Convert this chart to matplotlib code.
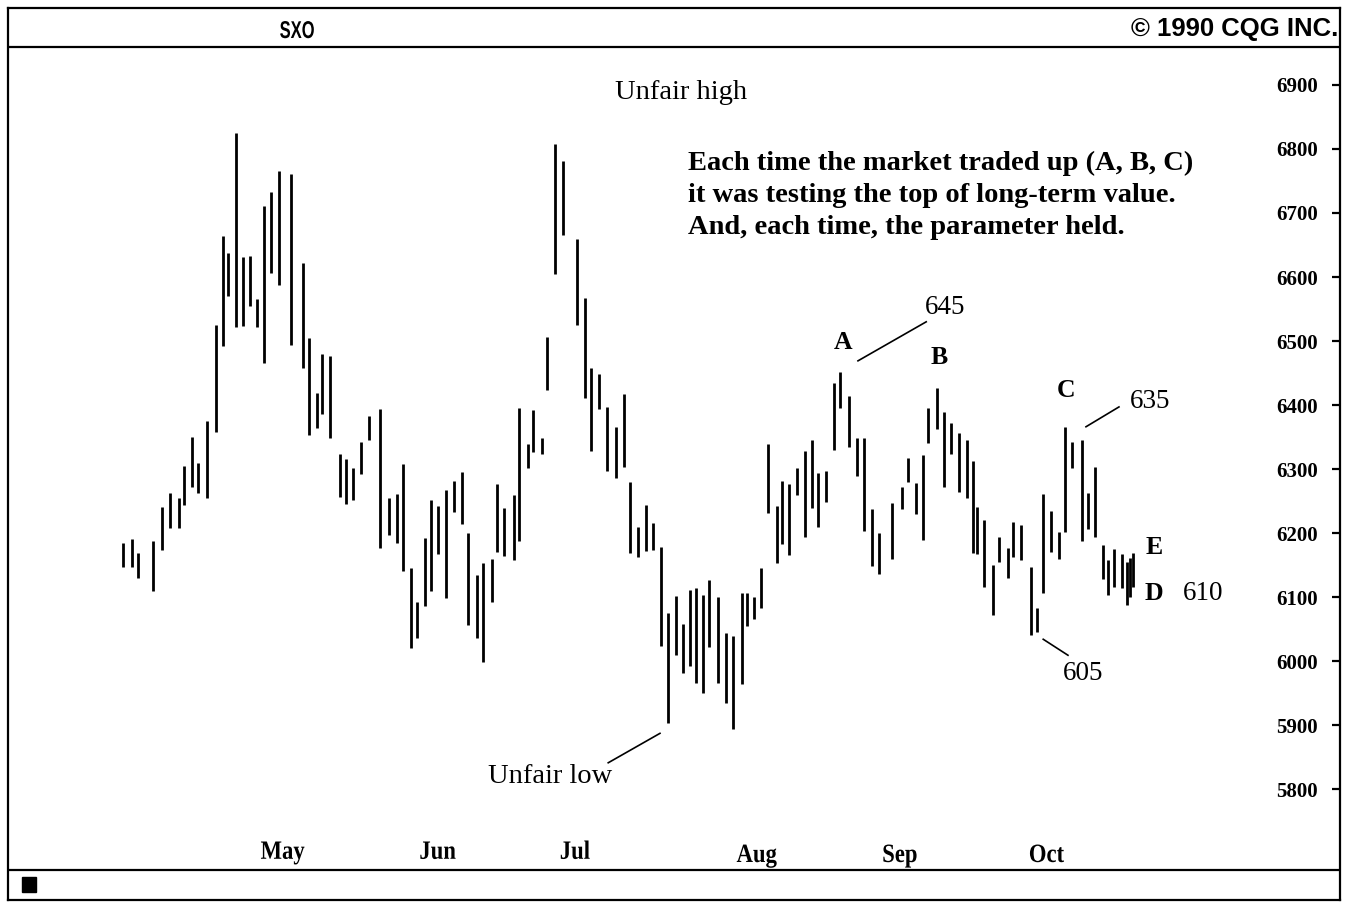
import matplotlib.pyplot as plt
from matplotlib.patches import Rectangle, PathPatch
from matplotlib.textpath import TextPath
from matplotlib.font_manager import FontProperties
from matplotlib.transforms import Affine2D

# Daily high/low bars for SXO, April - October 1990
# session: trading-day position along the chart
session = [0.0, 1.2, 2.0, 4.0, 5.2, 6.3, 7.5, 8.1, 9.2, 10.0,
           11.2, 12.4, 13.3, 14.0, 15.1, 16.0, 16.9, 17.9, 18.8, 19.7,
           20.8, 22.4, 24.0, 24.8, 25.9, 26.5, 27.6, 28.9, 29.7, 30.7,
           31.7, 32.8, 34.3, 35.5, 36.5, 37.3, 38.4, 39.2, 40.3, 41.1,
           42.0, 43.1, 44.1, 45.2, 46.0, 47.2, 48.0, 49.2, 49.9, 50.8,
           52.1, 52.8, 54.0, 54.7, 55.9, 56.5, 57.6, 58.7, 60.5, 61.6,
           62.4, 63.5, 64.5, 65.7, 66.8, 67.6, 68.7, 69.7, 70.7, 71.7,
           72.7, 73.7, 74.7, 75.6, 76.4, 77.3, 78.1, 79.3, 80.4, 81.3,
           82.5, 83.2, 84.1, 85.1, 86.0, 87.2, 87.9, 88.8, 89.9, 90.9,
           91.9, 92.7, 93.7, 94.8, 95.6, 96.8, 97.9, 98.8, 99.9, 100.8,
           102.5, 103.9, 104.7, 105.7, 106.7, 107.3, 108.5, 109.5, 110.4, 111.5,
           112.5, 113.3, 113.9, 114.8, 116.0, 116.8, 118.0, 118.7, 119.7, 121.1,
           121.9, 122.7, 123.7, 124.8, 125.6, 126.5, 127.9, 128.7, 129.6, 130.7,
           131.3, 132.1, 133.2, 133.9, 134.3, 134.7]

high = [6184, 6191, 6169, 6188, 6241, 6262, 6255, 6305, 6350, 6309,
        6375, 6525, 6664, 6637, 6825, 6631, 6633, 6566, 6711, 6733,
        6766, 6761, 6622, 6505, 6419, 6480, 6477, 6323, 6316, 6302,
        6342, 6383, 6394, 6255, 6261, 6308, 6145, 6092, 6192, 6252,
        6242, 6267, 6281, 6295, 6200, 6134, 6153, 6159, 6277, 6239,
        6259, 6395, 6339, 6392, 6348, 6506, 6808, 6781, 6659, 6567,
        6458, 6448, 6397, 6366, 6417, 6280, 6209, 6244, 6216, 6178,
        6075, 6102, 6058, 6111, 6114, 6103, 6127, 6100, 6044, 6039,
        6106, 6106, 6100, 6145, 6339, 6242, 6281, 6277, 6302, 6328,
        6345, 6294, 6297, 6434, 6452, 6414, 6348, 6348, 6238, 6200,
        6247, 6272, 6317, 6278, 6322, 6395, 6427, 6389, 6372, 6356,
        6345, 6312, 6241, 6220, 6150, 6194, 6177, 6217, 6213, 6147,
        6083, 6261, 6234, 6202, 6366, 6342, 6345, 6263, 6303, 6181,
        6158, 6175, 6167, 6155, 6161, 6169]

low = [6147, 6147, 6130, 6109, 6173, 6208, 6208, 6244, 6272, 6262,
       6255, 6358, 6492, 6570, 6522, 6523, 6555, 6522, 6466, 6606,
       6587, 6494, 6458, 6353, 6364, 6386, 6348, 6256, 6245, 6252,
       6292, 6345, 6177, 6197, 6184, 6141, 6020, 6036, 6086, 6109,
       6167, 6098, 6233, 6214, 6056, 6036, 5998, 6092, 6170, 6164,
       6158, 6187, 6302, 6327, 6323, 6423, 6605, 6666, 6525, 6411,
       6328, 6394, 6297, 6286, 6303, 6169, 6162, 6172, 6173, 6023,
       5903, 6009, 5981, 5992, 5966, 5950, 6022, 5966, 5934, 5894,
       5964, 6055, 6066, 6083, 6231, 6153, 6183, 6166, 6259, 6194,
       6239, 6209, 6248, 6330, 6395, 6334, 6289, 6203, 6148, 6136,
       6159, 6237, 6280, 6230, 6189, 6341, 6363, 6272, 6323, 6264,
       6255, 6169, 6167, 6116, 6072, 6155, 6130, 6162, 6158, 6041,
       6045, 6106, 6170, 6159, 6202, 6302, 6188, 6206, 6194, 6128,
       6103, 6116, 6114, 6088, 6100, 6116]

months = ['May', 'Jun', 'Jul', 'Aug', 'Sep', 'Oct']
month_session = [21.3, 42.0, 60.3, 84.5, 103.6, 123.2]
month_base = [5691, 5691, 5691, 5686, 5686, 5686]
price_ticks = list(range(5800, 7000, 100))

serif = ['Liberation Serif', 'DejaVu Serif']
sans = ['Liberation Sans', 'DejaVu Sans']


def narrow_text(fig, x, y, s, size, squeeze, prop):
    # text drawn as a path, squeezed horizontally; x, y in display pixels (centre, baseline)
    path = TextPath((0, 0), s, size=size, prop=prop)
    bb = path.get_extents()
    k = fig.dpi / 72
    tr = (Affine2D().translate(-bb.x0 - bb.width / 2, 0)
          .scale(squeeze * k, k).translate(x, y))
    fig.add_artist(PathPatch(path, transform=tr, facecolor='black', lw=0))


fig = plt.figure(figsize=(13.47, 9.05), dpi=100)
ax = fig.add_axes([8 / 1347, 5 / 905, 1332 / 1347, 892 / 905])
ax.set_xlim(-15.33, 162.27)
ax.set_ylim(5626.6, 7020.3)

# price bars
ax.vlines(session, low, high, color='black', linewidth=2.0)

# frame, header and footer rules
for s in ax.spines.values():
    s.set_linewidth(1.6)
ax.plot([0, 1], [0.9563, 0.9563], transform=ax.transAxes, color='black', lw=1.6)
ax.plot([0, 1], [0.0336, 0.0336], transform=ax.transAxes, color='black', lw=1.6)
ax.add_patch(Rectangle((0.0105, 0.009), 0.0105, 0.0168, transform=ax.transAxes,
                       color='black'))

head_prop = FontProperties(family=sans, weight='bold')
narrow_text(fig, 297, 905 - 38, 'SXO', 17.5, 0.68, head_prop)
ax.text(0.9985, 0.977, '\u00a9 1990 CQG INC.', transform=ax.transAxes, ha='right',
        va='center', family=sans, fontweight='bold', fontsize=18.5)

# price scale on the right, inside the frame
ax.set_xticks([])
ax.yaxis.tick_right()
ax.set_yticks(price_ticks)
ax.set_yticklabels([str(p) for p in price_ticks])
ax.tick_params(axis='y', direction='in', length=6, width=1.6, pad=-16)
for lab in ax.get_yticklabels():
    lab.set_horizontalalignment('right')
    lab.set_fontfamily(serif)
    lab.set_fontweight('bold')
    lab.set_fontsize(15)

# month labels
month_prop = FontProperties(family=serif, weight='bold')
for m, s, b in zip(months, month_session, month_base):
    px, py = ax.transData.transform((s, b))
    narrow_text(fig, px, py, m, 19, 0.86, month_prop)

# annotations
ax.text(74.4, 6889, 'Unfair high', ha='center', va='center', family=serif, fontsize=20.5)
ax.text(75.3, 6797, 'Each time the market traded up (A, B, C)\n'
        'it was testing the top of long-term value.\n'
        'And, each time, the parameter held.',
        ha='left', va='top', family=serif, fontweight='bold', fontsize=20.5,
        linespacing=1.36)

ax.text(56.9, 5819, 'Unfair low', ha='center', va='center', family=serif, fontsize=20.5)
ax.plot([64.7, 71.6], [5841, 5887], color='black', lw=1.2)

ax.text(96.0, 6498, 'A', ha='center', va='center', family=serif, fontweight='bold', fontsize=18.5)
ax.plot([98.0, 107.1], [6469, 6530], color='black', lw=1.2)
ax.text(109.6, 6552, '645', ha='center', va='center', family=serif, fontsize=19.5)
ax.text(108.8, 6475, 'B', ha='center', va='center', family=serif, fontweight='bold', fontsize=18.5)

ax.text(125.7, 6423, 'C', ha='center', va='center', family=serif, fontweight='bold', fontsize=18.5)
ax.plot([128.4, 132.8], [6366, 6397], color='black', lw=1.2)
ax.text(136.9, 6406, '635', ha='center', va='center', family=serif, fontsize=19.5)

ax.text(137.5, 6177, 'E', ha='center', va='center', family=serif, fontweight='bold', fontsize=18.5)
ax.text(137.5, 6106, 'D', ha='center', va='center', family=serif, fontweight='bold', fontsize=18.5)
ax.text(144.0, 6106, '610', ha='center', va='center', family=serif, fontsize=19.5)

ax.plot([122.7, 126.0], [6034, 6009], color='black', lw=1.2)
ax.text(128.0, 5981, '605', ha='center', va='center', family=serif, fontsize=19.5)

fig.savefig('out.png', dpi=100)
